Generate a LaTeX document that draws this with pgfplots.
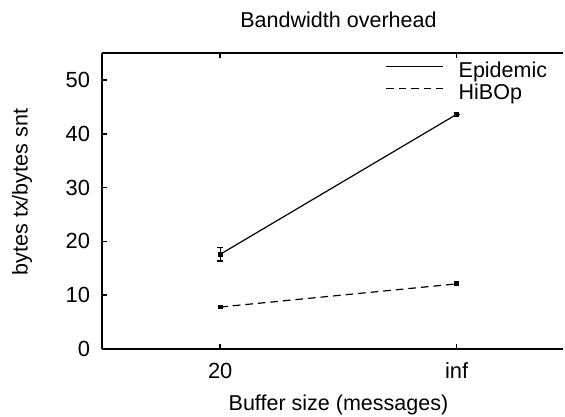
\documentclass[border=0pt]{standalone}
\usepackage{fontspec}
\setmainfont{Liberation Sans}
\usepackage{pgfplots}
\pgfplotsset{compat=1.18}
\usetikzlibrary{calc}

\begin{document}
\begin{tikzpicture}
\begin{axis}[
  scale only axis,
  width=230.5bp, height=148bp,
  xmin=0.5, xmax=2.45,
  ymin=0, ymax=55,
  xtick={1,2}, xticklabels={20,inf},
  ytick={0,10,20,30,40,50},
  axis y line*=left,
  axis line style={line width=1.1bp},
  tick style={line width=0.8bp, black},
  major tick length=2.5bp,
  tick align=inside,
  /pgf/number format/assume math mode=true,
  tick label style={font=\fontsize{11}{13}\selectfont},
  label style={font=\fontsize{10.8}{13}\selectfont},
  xticklabel style={anchor=base, yshift=-14.5bp},
  yticklabel style={anchor=east, xshift=-2.5bp},
  xlabel={Buffer size (messages)},
  ylabel={bytes tx/bytes snt},
  xlabel style={at={(axis description cs:0.513,0)}, anchor=base, yshift=-30.5bp},
  ylabel style={at={(axis description cs:-0.1735,0.53)}, anchor=center},
  title={Bandwidth overhead},
  title style={at={(axis description cs:0.513,1)}, anchor=base, yshift=7bp, font=\fontsize{10.8}{13}\selectfont},
  legend style={draw=none, fill=none, at={(axis description cs:0.614,0.970)}, anchor=north west,
    font=\fontsize{10.8}{13}\selectfont, inner sep=0pt, row sep=1bp,
    nodes={inner sep=0pt, text height=7.5bp, text depth=2.5bp},
    /tikz/every odd column/.append style={column sep=7.5bp}},
  legend cell align=left,
  legend image code/.code={\draw[#1, mark=none] (0bp,2.8bp) -- (28.5bp,2.8bp);},
]
\addplot[black, line width=0.6bp, mark=square*, mark size=0.9bp,
  error bars/.cd, y dir=both, y explicit, error mark options={rotate=90, mark size=1.5bp, line width=0.6bp}]
  coordinates { (1,17.6) +- (0,1.25) (2,43.6) +- (0,0) };
\addlegendentry{Epidemic}
\addplot[black, line width=0.6bp, dash pattern=on 3.8bp off 2.5bp, mark=square*, mark size=0.9bp,
  mark options={solid}]
  coordinates { (1,7.8) (2,12.1) };
\addlegendentry{HiBOp}
\coordinate (bl) at (rel axis cs:0,0);
\coordinate (tr) at (rel axis cs:1,1);
\end{axis}
\pgfresetboundingbox
\path[use as bounding box] ($(bl)+(-51bp,-34bp)$) rectangle ($(tr)+(1bp,26.5bp)$);
\end{tikzpicture}
\end{document}
